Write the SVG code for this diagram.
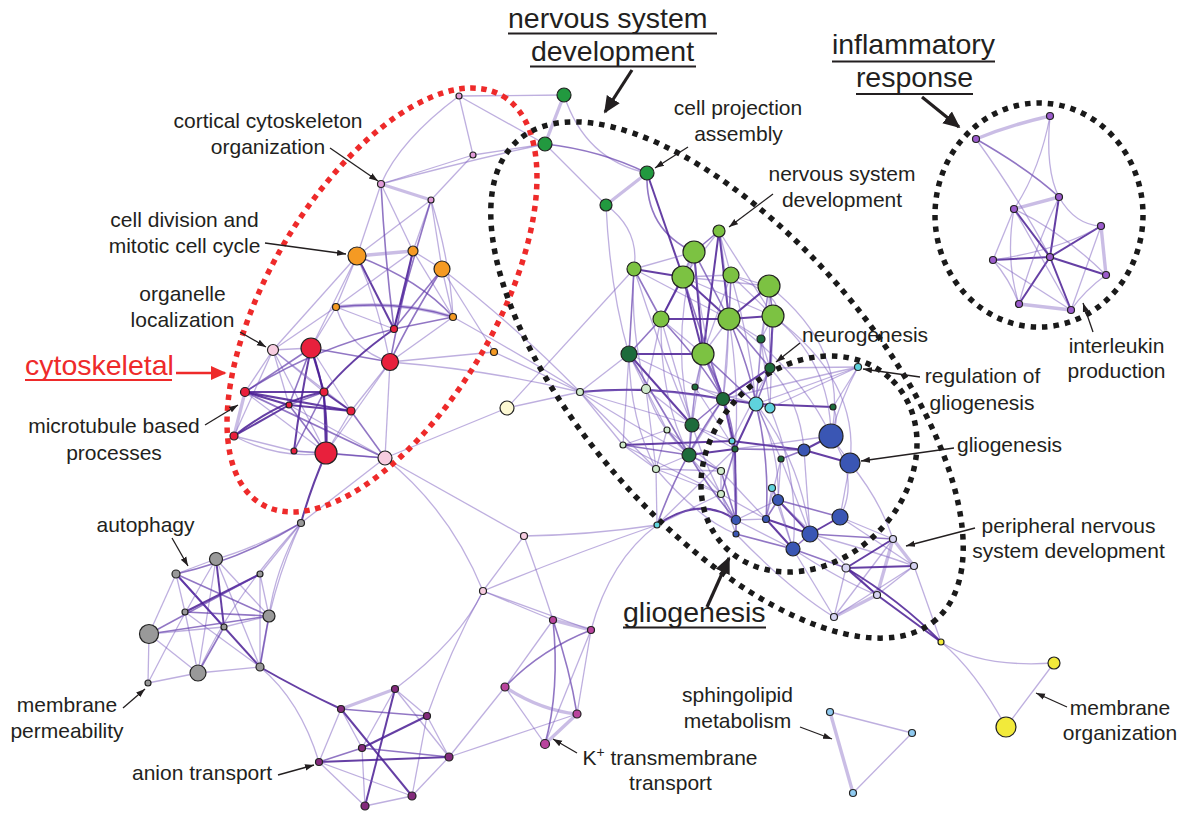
<svg xmlns="http://www.w3.org/2000/svg" width="1186" height="813" viewBox="0 0 1186 813">
<defs>
<style>
.L{stroke:#7d5fbf;stroke-opacity:.5;stroke-width:1.3;fill:none}
.M{stroke:#5d35a8;stroke-opacity:.68;stroke-width:1.6;fill:none}
.D{stroke:#4a1d94;stroke-opacity:.85;stroke-width:2;fill:none}
.T{stroke:#8a6cc6;stroke-opacity:.45;stroke-width:3.4;fill:none}
circle{stroke:#222;stroke-width:1.2}
.pv{fill:#e09ad8}.or{fill:#f59a23}.rd{fill:#e8203c}.lp{fill:#f7cde0}.cr{fill:#fdf9d3}
.gr{fill:#22993f}.lg{fill:#7cc242}.dg{fill:#1d6b3b}.pg{fill:#cfeacb}.cy{fill:#5fd3dd}
.bl{fill:#3a56b4}.lv{fill:#d6d3f2}.ye{fill:#f2ea3a}.gy{fill:#999}.pl{fill:#832a7c}
.mg{fill:#b9449d}.ip{fill:#9b5bcc}.lb{fill:#8fcaf0}
text{font-family:"Liberation Sans",Arial,sans-serif;fill:#231f20}
.s{font-size:21px;text-anchor:middle}
.b{font-size:28.5px}
.ul{stroke:#231f20;stroke-width:1.8}
.ar{stroke:#231f20;stroke-width:1.3;fill:none;marker-end:url(#ah)}
.big{stroke:#231f20;stroke-width:3.2;fill:none;marker-end:url(#ahb)}
.blk{fill:none;stroke:#1a1a1a;stroke-width:5.5;stroke-dasharray:5.5 6}
.red{fill:none;stroke:#ee2a2a;stroke-width:5.5;stroke-dasharray:5.5 5.5}
</style>
<marker id="ah" viewBox="0 0 10 10" refX="10" refY="5" markerWidth="9" markerHeight="9" markerUnits="userSpaceOnUse" orient="auto"><path d="M0,1.5L10,5L0,8.5z" fill="#231f20"/></marker>
<marker id="ahb" viewBox="0 0 10 10" refX="9" refY="5" markerWidth="17" markerHeight="17" markerUnits="userSpaceOnUse" orient="auto"><path d="M0,0.5L10,5L0,9.5z" fill="#231f20"/></marker>
<marker id="ahr" viewBox="0 0 10 10" refX="9" refY="5" markerWidth="16" markerHeight="16" markerUnits="userSpaceOnUse" orient="auto"><path d="M0,0.5L10,5L0,9.5z" fill="#ee2a2a"/></marker>
</defs>
<rect width="1186" height="813" fill="#fff"/>

<g id="connectors">
<!-- cytoskeletal -->
<path class="L" d="M459 96L473 155"/><path class="L" d="M459 96Q400 140 381 184"/><path class="L" d="M459 96L564 95"/><path class="L" d="M459 96L545 144"/>
<path class="L" d="M473 155L381 184"/><path class="L" d="M473 155L545 144"/><path class="L" d="M473 155L431 200"/><path class="L" d="M381 184Q470 160 545 144"/>
<path class="T" d="M381 184L431 200"/><path class="L" d="M381 184L357 256"/><path class="L" d="M381 184L413 251"/><path class="L" d="M431 200L357 256"/>
<path class="L" d="M431 200L413 251"/><path class="L" d="M431 200L442 269"/><path class="M" d="M381 184Q385 260 394 329"/><path class="M" d="M431 200Q410 270 394 329"/>
<path class="T" d="M357 256L413 251"/><path class="D" d="M357 256L394 329"/><path class="M" d="M357 256Q420 280 453 317"/><path class="L" d="M357 256L273 350"/>
<path class="L" d="M357 256L336 307"/><path class="D" d="M413 251L394 329"/><path class="M" d="M413 251Q400 310 390 362"/><path class="L" d="M413 251L453 317"/>
<path class="L" d="M413 251L336 307"/><path class="M" d="M442 269L394 329"/><path class="L" d="M442 269L453 317"/><path class="L" d="M442 269L494 352"/>
<path class="M" d="M442 269Q410 320 390 362"/><path class="L" d="M442 269Q520 330 580 392"/><path class="T" d="M336 307Q400 300 453 317"/><path class="M" d="M336 307Q400 300 453 317"/>
<path class="L" d="M336 307L394 329"/><path class="L" d="M336 307L273 350"/><path class="L" d="M336 307L311 348"/><path class="L" d="M336 307Q350 350 390 362"/>
<path class="M" d="M453 317L394 329"/><path class="L" d="M453 317L390 362"/><path class="L" d="M453 317Q530 360 580 392"/><path class="L" d="M494 352L580 392"/>
<path class="L" d="M494 352L390 362"/><path class="D" d="M394 329Q350 360 324 392"/><path class="M" d="M394 329Q310 350 245 392"/>
<path class="L" d="M357 256L311 348"/><path class="L" d="M413 251L442 269"/><path class="L" d="M431 200Q450 260 453 317"/><path class="L" d="M357 256Q380 310 390 362"/>
<path class="L" d="M273 350L326 453"/><path class="L" d="M234 436Q280 460 326 453"/>
<path class="M" d="M311 348L390 362"/><path class="M" d="M311 348L245 392"/><path class="D" d="M311 348L324 392"/><path class="M" d="M311 348L289 405"/>
<path class="L" d="M311 348L351 411"/><path class="D" d="M311 348Q300 400 294 451"/><path class="D" d="M311 348Q330 400 326 453"/><path class="L" d="M311 348L273 350"/>
<path class="L" d="M390 362L351 411"/><path class="L" d="M390 362L385 458"/><path class="L" d="M390 362Q490 370 580 392"/><path class="L" d="M390 362L326 453"/>
<path class="L" d="M273 350L245 392"/><path class="L" d="M273 350L324 392"/><path class="L" d="M273 350L289 405"/><path class="L" d="M273 350L351 411"/><path class="L" d="M273 350L234 436"/>
<path class="D" d="M245 392L324 392"/><path class="D" d="M245 392L289 405"/><path class="D" d="M245 392L351 411"/><path class="T" d="M245 392L234 436"/>
<path class="M" d="M245 392L385 458"/><path class="L" d="M245 392L326 453"/><path class="M" d="M324 392L289 405"/><path class="D" d="M324 392L351 411"/>
<path class="D" d="M324 392L326 453"/><path class="D" d="M289 405L351 411"/><path class="D" d="M289 405L234 436"/><path class="M" d="M289 405L326 453"/>
<path class="L" d="M289 405L385 458"/><path class="M" d="M351 411L385 458"/><path class="L" d="M351 411L326 453"/><path class="D" d="M234 436Q280 400 324 392"/>
<path class="L" d="M234 436L294 451"/><path class="L" d="M294 451L326 453"/><path class="L" d="M294 451L385 458"/><path class="M" d="M294 451L324 392"/>
<path class="M" d="M326 453L385 458"/><path class="D" d="M326 453Q310 490 301 523"/><path class="L" d="M385 458L301 523"/>
<path class="L" d="M385 458Q460 500 524 536"/><path class="L" d="M385 458Q450 510 483 591"/>
<path class="L" d="M507 408L385 458"/><path class="L" d="M507 408L634 269"/><path class="L" d="M507 408L580 392"/>
<!-- nervous system -->
<path class="T" d="M564 95L545 144"/><path class="L" d="M564 95Q585 160 647 173"/><path class="M" d="M545 144Q600 150 647 173"/><path class="L" d="M545 144L606 205"/>
<path class="T" d="M647 173L606 205"/><path class="M" d="M647 173Q645 230 694 252"/><path class="D" d="M647 173L683 277"/><path class="L" d="M606 205Q640 230 634 269"/>
<path class="L" d="M606 205Q610 290 629 354"/><path class="M" d="M719 231L694 252"/><path class="L" d="M719 231L683 277"/><path class="L" d="M719 231L731 275"/>
<path class="D" d="M719 231L729 319"/><path class="D" d="M719 231L703 354"/><path class="L" d="M719 231L773 316"/><path class="L" d="M694 252L634 269"/>
<path class="T" d="M694 252L683 277"/><path class="M" d="M694 252L729 319"/><path class="D" d="M694 252L703 354"/><path class="L" d="M694 252L661 319"/>
<path class="D" d="M634 269L683 277"/><path class="M" d="M634 269L661 319"/><path class="M" d="M634 269L629 354"/><path class="L" d="M634 269L729 319"/>
<path class="L" d="M683 277L731 275"/><path class="L" d="M683 277L769 286"/><path class="D" d="M683 277L661 319"/><path class="D" d="M683 277L729 319"/>
<path class="L" d="M683 277L773 316"/><path class="D" d="M683 277L703 354"/><path class="M" d="M683 277L723 399"/><path class="M" d="M731 275L729 319"/>
<path class="L" d="M731 275L769 286"/><path class="L" d="M731 275L773 316"/><path class="L" d="M731 275L703 354"/><path class="D" d="M769 286L729 319"/>
<path class="M" d="M769 286L773 316"/><path class="L" d="M769 286L761 339"/><path class="L" d="M769 286L770 368"/><path class="D" d="M661 319L729 319"/>
<path class="L" d="M661 319L703 354"/><path class="M" d="M661 319L629 354"/><path class="L" d="M661 319L692 425"/><path class="L" d="M661 319L646 389"/>
<path class="D" d="M729 319L773 316"/><path class="L" d="M729 319L703 354"/><path class="M" d="M729 319L770 368"/><path class="L" d="M729 319L761 339"/>
<path class="L" d="M729 319L723 399"/><path class="L" d="M773 316L761 339"/><path class="D" d="M773 316L770 368"/><path class="L" d="M773 316L770 408"/>
<path class="D" d="M703 354L629 354"/><path class="M" d="M703 354L723 399"/><path class="L" d="M703 354L692 425"/><path class="M" d="M703 354L756 404"/>
<path class="L" d="M703 354L695 387"/><path class="D" d="M629 354L692 425"/><path class="L" d="M629 354L646 389"/><path class="L" d="M629 354L580 392"/>
<path class="L" d="M629 354L623 445"/><path class="M" d="M629 354L689 455"/><path class="L" d="M629 354L723 399"/><path class="D" d="M770 368L723 399"/>
<path class="M" d="M770 368L756 404"/><path class="L" d="M770 368L732 441"/><path class="L" d="M761 339L756 404"/><path class="L" d="M761 339L770 368"/>
<path class="D" d="M580 392Q650 385 723 399"/><path class="L" d="M580 392L692 425"/><path class="L" d="M580 392L623 445"/><path class="L" d="M580 392L646 389"/>
<path class="L" d="M646 389L723 399"/><path class="L" d="M646 389L667 430"/><path class="L" d="M646 389L656 469"/><path class="L" d="M695 387L756 404"/>
<path class="L" d="M695 387L692 425"/><path class="D" d="M723 399L756 404"/><path class="M" d="M723 399L692 425"/><path class="D" d="M723 399L735 449"/>
<path class="L" d="M723 399L689 455"/><path class="M" d="M756 404L770 408"/><path class="D" d="M756 404L735 449"/><path class="L" d="M756 404L781 459"/>
<path class="D" d="M756 404L833 407"/><path class="L" d="M756 404L858 367"/><path class="L" d="M723 399Q800 380 858 367"/><path class="L" d="M770 368L858 367"/>
<path class="L" d="M770 408L858 367"/><path class="M" d="M692 425L689 455"/><path class="L" d="M692 425L735 449"/><path class="L" d="M692 425L732 441"/>
<path class="L" d="M667 430L623 445"/><path class="L" d="M667 430L656 469"/><path class="M" d="M667 430L689 455"/><path class="D" d="M623 445L732 441"/>
<path class="L" d="M623 445L656 469"/><path class="M" d="M623 445L689 455"/><path class="D" d="M732 441L804 450"/><path class="L" d="M732 441L735 449"/>
<path class="M" d="M735 449L804 450"/><path class="L" d="M735 449L831 436"/><path class="D" d="M735 449L689 455"/><path class="M" d="M735 449L721 494"/>
<path class="D" d="M735 449L736 520"/><path class="L" d="M689 455L656 469"/><path class="M" d="M689 455L721 471"/><path class="L" d="M656 469L721 494"/>
<path class="L" d="M656 469L721 471"/><path class="M" d="M721 471L736 520"/><path class="L" d="M721 471L721 494"/><path class="L" d="M721 471L766 519"/>
<path class="L" d="M781 459L778 500"/><path class="M" d="M781 459L804 450"/><path class="L" d="M781 459L766 519"/><path class="D" d="M804 450L831 436"/>
<path class="D" d="M804 450L850 463"/><path class="L" d="M804 450L810 534"/><path class="L" d="M831 436Q860 480 840 517"/><path class="L" d="M850 463L840 517"/>
<path class="L" d="M831 436L850 463"/><path class="L" d="M721 494L766 519"/><path class="L" d="M721 494L736 520"/><path class="M" d="M772 488L778 500"/>
<path class="L" d="M772 488L766 519"/><path class="L" d="M778 500L793 549"/><path class="L" d="M778 500L736 520"/><path class="D" d="M778 500L810 534"/>
<path class="M" d="M778 500L766 519"/><path class="D" d="M840 517L810 534"/><path class="M" d="M840 517L778 500"/><path class="L" d="M736 520L766 519"/>
<path class="M" d="M736 520L736 534"/><path class="L" d="M736 520L793 549"/><path class="D" d="M766 519L810 534"/><path class="D" d="M766 519L793 549"/>
<path class="M" d="M736 534L793 549"/><path class="M" d="M810 534L793 549"/><path class="M" d="M793 549L846 568"/><path class="M" d="M810 534L893 539"/>
<path class="L" d="M840 517L893 539"/><path class="L" d="M793 549L834 617"/><path class="L" d="M778 500Q840 560 877 595"/><path class="L" d="M736 534Q790 590 834 617"/>
<path class="L" d="M850 463Q880 500 893 539"/><path class="L" d="M840 517L914 566"/><path class="D" d="M657 525Q700 495 736 520"/><path class="L" d="M657 525L721 494"/>
<path class="M" d="M657 525Q680 460 723 399"/><path class="L" d="M657 525L735 449"/><path class="L" d="M657 525L656 469"/>
<!-- extra nervous system density -->
<path class="L" d="M773 316Q860 380 850 463"/><path class="L" d="M769 286Q850 350 831 436"/><path class="L" d="M773 316Q830 360 831 436"/><path class="L" d="M729 319Q800 370 831 436"/>
<path class="L" d="M769 286Q760 350 756 404"/><path class="L" d="M731 275Q750 340 756 404"/><path class="L" d="M719 231Q735 320 723 399"/><path class="L" d="M694 252Q700 330 723 399"/>
<path class="L" d="M694 252Q670 350 692 425"/><path class="L" d="M634 269Q660 350 692 425"/><path class="L" d="M634 269Q630 330 646 389"/><path class="L" d="M661 319Q660 400 689 455"/>
<path class="M" d="M661 319Q700 360 723 399"/><path class="L" d="M703 354Q690 410 689 455"/><path class="M" d="M703 354Q730 400 735 449"/><path class="M" d="M729 319Q750 370 756 404"/>
<path class="L" d="M729 319Q740 390 735 449"/><path class="L" d="M629 354Q630 420 656 469"/><path class="L" d="M646 389Q660 430 689 455"/><path class="L" d="M646 389L692 425"/>
<path class="L" d="M692 425Q710 480 736 520"/><path class="M" d="M689 455Q710 490 736 520"/><path class="L" d="M689 455L721 494"/><path class="L" d="M723 399Q740 470 736 520"/>
<path class="L" d="M756 404Q780 450 778 500"/><path class="L" d="M756 404Q800 460 810 534"/><path class="L" d="M770 408Q800 480 793 549"/><path class="L" d="M833 407Q840 420 831 436"/>
<path class="L" d="M770 368Q800 400 804 450"/><path class="L" d="M858 367Q840 400 831 436"/><path class="L" d="M858 367L833 407"/><path class="M" d="M756 404Q770 460 766 519"/>
<path class="L" d="M667 430L721 471"/><path class="L" d="M623 445L721 494"/><path class="L" d="M580 392Q640 430 689 455"/><path class="L" d="M580 392L656 469"/>
<path class="L" d="M732 441L736 520"/><path class="L" d="M761 339L770 408"/><path class="L" d="M695 387L735 449"/><path class="L" d="M781 459L810 534"/>
<path class="L" d="M772 488L793 549"/><path class="L" d="M721 494L736 534"/><path class="L" d="M793 549Q840 580 877 595"/><path class="L" d="M810 534Q870 550 914 566"/>
<path class="L" d="M656 469Q700 520 736 534"/><path class="L" d="M731 275Q790 300 773 316"/>
<!-- peripheral / yellow -->
<path class="D" d="M893 539L846 568"/><path class="T" d="M893 539L914 566"/><path class="T" d="M893 539L877 595"/><path class="L" d="M893 539L834 617"/>
<path class="D" d="M846 568L914 566"/><path class="D" d="M846 568L877 595"/><path class="L" d="M846 568L834 617"/><path class="L" d="M914 566L877 595"/>
<path class="L" d="M914 566L834 617"/><path class="T" d="M877 595L834 617"/><path class="D" d="M877 595L941 642"/><path class="L" d="M914 566L941 642"/>
<path class="D" d="M846 568Q900 600 941 642"/><path class="L" d="M941 642Q980 668 1054 663"/><path class="L" d="M941 642Q975 670 1006 727"/><path class="L" d="M1054 663L1006 727"/>
<!-- inflammatory -->
<path class="T" d="M976 139Q1010 125 1050 116"/><path class="M" d="M976 139Q1030 170 1059 197"/><path class="L" d="M976 139Q1020 200 1050 257"/>
<path class="L" d="M1050 116Q1040 170 1014 209"/><path class="L" d="M1050 116Q1045 170 1059 197"/><path class="T" d="M1059 197L1014 209"/><path class="D" d="M1059 197L1050 257"/>
<path class="L" d="M1059 197Q1075 225 1101 226"/><path class="D" d="M1014 209L1050 257"/><path class="L" d="M1014 209L993 260"/><path class="L" d="M1014 209Q1005 260 1019 304"/>
<path class="D" d="M1101 226L1050 257"/><path class="T" d="M1101 226L1106 275"/><path class="L" d="M1101 226L1071 310"/><path class="D" d="M993 260L1050 257"/>
<path class="D" d="M1050 257L1106 275"/><path class="D" d="M1050 257L1019 304"/><path class="D" d="M1050 257L1071 310"/><path class="L" d="M1106 275Q1085 290 1071 310"/>
<path class="T" d="M1019 304L1071 310"/><path class="L" d="M993 260Q1010 280 1019 304"/><path class="L" d="M993 260L1071 310"/><path class="L" d="M1014 209L1071 310"/>
<path class="L" d="M1059 197Q1030 260 1019 304"/><path class="L" d="M1101 226Q1060 250 993 260"/><path class="L" d="M1014 209Q1060 230 1106 275"/>
<!-- autophagy -->
<path class="L" d="M301 523Q250 550 216 559"/><path class="M" d="M301 523Q240 560 176 574"/><path class="L" d="M301 523L260 574"/><path class="L" d="M301 523Q275 570 269 616"/>
<path class="L" d="M301 523Q270 590 260 667"/><path class="L" d="M301 523Q230 600 198 673"/><path class="D" d="M216 559L224 627"/><path class="L" d="M216 559L198 673"/>
<path class="L" d="M216 559L269 616"/><path class="L" d="M216 559L176 574"/><path class="L" d="M216 559L260 667"/><path class="D" d="M176 574L260 667"/>
<path class="M" d="M176 574L269 616"/><path class="L" d="M176 574L149 634"/><path class="L" d="M176 574L185 612"/><path class="M" d="M176 574L224 627"/>
<path class="D" d="M260 574L185 612"/><path class="M" d="M260 574L149 634"/><path class="L" d="M260 574L269 616"/><path class="L" d="M260 574L260 667"/>
<path class="M" d="M185 612L269 616"/><path class="L" d="M185 612L260 667"/><path class="L" d="M185 612L198 673"/><path class="M" d="M269 616L149 634"/>
<path class="M" d="M269 616L260 667"/><path class="L" d="M269 616L224 627"/><path class="M" d="M224 627L198 673"/><path class="L" d="M224 627L149 634"/>
<path class="L" d="M149 634L148 683"/><path class="L" d="M149 634L198 673"/><path class="L" d="M198 673L148 683"/><path class="L" d="M198 673L260 667"/>
<path class="L" d="M216 559Q180 620 148 683"/>
<path class="D" d="M260 667Q300 690 341 709"/><path class="L" d="M260 667Q300 700 319 762"/>
<!-- anion -->
<path class="T" d="M395 689L341 709"/><path class="L" d="M395 689L427 716"/><path class="D" d="M395 689L365 806"/><path class="L" d="M395 689L362 748"/>
<path class="L" d="M395 689L449 757"/><path class="D" d="M341 709L412 796"/><path class="M" d="M341 709L427 716"/><path class="L" d="M341 709L319 762"/>
<path class="L" d="M341 709L362 748"/><path class="D" d="M427 716L362 748"/><path class="L" d="M427 716L449 757"/><path class="L" d="M427 716L412 796"/>
<path class="M" d="M362 748L319 762"/><path class="L" d="M362 748L365 806"/><path class="M" d="M362 748L449 757"/><path class="D" d="M319 762L449 757"/>
<path class="L" d="M319 762L365 806"/><path class="L" d="M319 762L412 796"/><path class="L" d="M449 757L412 796"/><path class="L" d="M412 796L365 806"/>
<path class="L" d="M395 689Q460 640 483 591"/><path class="L" d="M449 757L505 687"/><path class="L" d="M449 757L577 714"/><path class="L" d="M427 716Q450 650 483 591"/>
<!-- K+ / mid -->
<path class="T" d="M553 620L591 630"/><path class="M" d="M553 620Q570 670 577 714"/><path class="M" d="M553 620Q560 690 545 744"/><path class="L" d="M553 620L505 687"/>
<path class="M" d="M591 630Q540 650 505 687"/><path class="L" d="M591 630L545 744"/><path class="L" d="M591 630L577 714"/><path class="T" d="M505 687Q540 710 577 714"/>
<path class="L" d="M505 687L545 744"/><path class="T" d="M577 714L545 744"/>
<path class="L" d="M524 536L483 591"/><path class="L" d="M524 536Q540 580 553 620"/><path class="L" d="M524 536Q590 535 657 525"/><path class="L" d="M483 591Q570 555 657 525"/>
<path class="L" d="M483 591L553 620"/><path class="L" d="M483 591L591 630"/><path class="L" d="M591 630Q610 560 657 525"/>
<!-- sphingolipid -->
<path class="T" d="M830 712L853 793"/><path class="L" d="M830 712L912 733"/><path class="L" d="M912 733L853 793"/>
</g>

<g id="outlines">
<ellipse class="red" cx="382" cy="300" rx="237" ry="113" transform="rotate(-59.4 382 300)"/>
<ellipse class="blk" cx="727" cy="380" rx="318" ry="146" transform="rotate(48.9 727 380)"/>
<ellipse class="blk" cx="809" cy="464" rx="118" ry="97" transform="rotate(-45 809 464)"/>
<ellipse class="blk" cx="1039" cy="215" rx="104" ry="112"/>
</g>

<g id="nodes">
<g id="c1"><circle class="pv" cx="459" cy="96" r="3"/></g>
<g id="c2"><circle class="pv" cx="473" cy="155" r="3"/></g>
<g id="c3"><circle class="pv" cx="381" cy="184" r="3.5"/></g>
<g id="c4"><circle class="pv" cx="431" cy="200" r="3"/></g>
<g id="c5"><circle class="or" cx="357" cy="256" r="9"/></g>
<g id="c6"><circle class="or" cx="413" cy="251" r="5"/></g>
<g id="c7"><circle class="or" cx="442" cy="269" r="8"/></g>
<g id="c8"><circle class="or" cx="336" cy="307" r="3.5"/></g>
<g id="c9"><circle class="or" cx="453" cy="317" r="3.5"/></g>
<g id="c10"><circle class="rd" cx="394" cy="329" r="3.5"/></g>
<g id="c11"><circle class="or" cx="494" cy="352" r="3.5"/></g>
<g id="c12"><circle class="lp" cx="273" cy="350" r="5.5"/></g>
<g id="c13"><circle class="rd" cx="311" cy="348" r="10"/></g>
<g id="c14"><circle class="rd" cx="390" cy="362" r="8.5"/></g>
<g id="c15"><circle class="rd" cx="245" cy="392" r="4.5"/></g>
<g id="c16"><circle class="rd" cx="324" cy="392" r="4"/></g>
<g id="c17"><circle class="rd" cx="289" cy="405" r="3"/></g>
<g id="c18"><circle class="rd" cx="351" cy="411" r="4"/></g>
<g id="c19"><circle class="rd" cx="234" cy="436" r="4"/></g>
<g id="c20"><circle class="rd" cx="294" cy="451" r="3"/></g>
<g id="c21"><circle class="rd" cx="326" cy="453" r="11"/></g>
<g id="c22"><circle class="lp" cx="385" cy="458" r="7"/></g>
<g id="n0"><circle class="cr" cx="507" cy="408" r="7"/></g>
<g id="n1"><circle class="gr" cx="564" cy="95" r="7"/></g>
<g id="n2"><circle class="gr" cx="545" cy="144" r="7"/></g>
<g id="n3"><circle class="gr" cx="647" cy="173" r="7"/></g>
<g id="n4"><circle class="gr" cx="606" cy="205" r="6"/></g>
<g id="n5"><circle class="lg" cx="719" cy="231" r="6"/></g>
<g id="n6"><circle class="lg" cx="694" cy="252" r="11"/></g>
<g id="n7"><circle class="lg" cx="634" cy="269" r="7"/></g>
<g id="n8"><circle class="lg" cx="683" cy="277" r="11"/></g>
<g id="n9"><circle class="lg" cx="731" cy="275" r="8"/></g>
<g id="n10"><circle class="lg" cx="769" cy="286" r="11"/></g>
<g id="n11"><circle class="lg" cx="661" cy="319" r="8"/></g>
<g id="n12"><circle class="lg" cx="729" cy="319" r="11"/></g>
<g id="n13"><circle class="lg" cx="773" cy="316" r="11"/></g>
<g id="n14"><circle class="dg" cx="761" cy="339" r="4"/></g>
<g id="n15"><circle class="lg" cx="703" cy="354" r="11"/></g>
<g id="n16"><circle class="dg" cx="629" cy="354" r="8"/></g>
<g id="n17"><circle class="dg" cx="770" cy="368" r="5"/></g>
<g id="n18"><circle class="pg" cx="580" cy="392" r="3.5"/></g>
<g id="n19"><circle class="pg" cx="646" cy="389" r="4.5"/></g>
<g id="n20"><circle class="dg" cx="695" cy="387" r="3"/></g>
<g id="n21"><circle class="dg" cx="723" cy="399" r="6.5"/></g>
<g id="n22"><circle class="cy" cx="756" cy="404" r="7"/></g>
<g id="n23"><circle class="cy" cx="770" cy="408" r="5"/></g>
<g id="n24"><circle class="dg" cx="833" cy="407" r="3"/></g>
<g id="n25"><circle class="dg" cx="692" cy="425" r="7"/></g>
<g id="n26"><circle class="pg" cx="667" cy="430" r="3"/></g>
<g id="n27"><circle class="pg" cx="623" cy="445" r="3"/></g>
<g id="n28"><circle class="cy" cx="732" cy="441" r="3"/></g>
<g id="n29"><circle class="dg" cx="735" cy="449" r="3"/></g>
<g id="n30"><circle class="dg" cx="689" cy="455" r="7"/></g>
<g id="n31"><circle class="pg" cx="656" cy="469" r="3.5"/></g>
<g id="n32"><circle class="pg" cx="721" cy="471" r="3.5"/></g>
<g id="n33"><circle class="dg" cx="781" cy="459" r="3"/></g>
<g id="n34"><circle class="bl" cx="804" cy="450" r="6"/></g>
<g id="n35"><circle class="bl" cx="831" cy="436" r="12"/></g>
<g id="n36"><circle class="bl" cx="850" cy="463" r="10"/></g>
<g id="n37"><circle class="pg" cx="721" cy="494" r="3.5"/></g>
<g id="n38"><circle class="cy" cx="772" cy="488" r="3.5"/></g>
<g id="n39"><circle class="bl" cx="778" cy="500" r="5.5"/></g>
<g id="n40"><circle class="bl" cx="840" cy="517" r="8"/></g>
<g id="n41"><circle class="bl" cx="736" cy="520" r="4.5"/></g>
<g id="n42"><circle class="bl" cx="766" cy="519" r="3.5"/></g>
<g id="n43"><circle class="bl" cx="736" cy="534" r="3"/></g>
<g id="n44"><circle class="bl" cx="810" cy="534" r="8"/></g>
<g id="n45"><circle class="bl" cx="793" cy="549" r="7"/></g>
<g id="n46"><circle class="cy" cx="657" cy="525" r="3"/></g>
<g id="n47"><circle class="cy" cx="858" cy="367" r="3.5"/></g>
<g id="p1"><circle class="lv" cx="893" cy="539" r="3.5"/></g>
<g id="p2"><circle class="lv" cx="846" cy="568" r="4"/></g>
<g id="p3"><circle class="lv" cx="914" cy="566" r="3.5"/></g>
<g id="p4"><circle class="lv" cx="877" cy="595" r="3.5"/></g>
<g id="p5"><circle class="lv" cx="834" cy="617" r="3.5"/></g>
<g id="y1"><circle class="ye" cx="941" cy="642" r="3"/></g>
<g id="y2"><circle class="ye" cx="1054" cy="663" r="6"/></g>
<g id="y3"><circle class="ye" cx="1006" cy="727" r="10"/></g>
<g id="i1"><circle class="ip" cx="976" cy="139" r="3.5"/></g>
<g id="i2"><circle class="ip" cx="1050" cy="116" r="3.5"/></g>
<g id="i3"><circle class="ip" cx="1059" cy="197" r="3.5"/></g>
<g id="i4"><circle class="ip" cx="1014" cy="209" r="3.5"/></g>
<g id="i5"><circle class="ip" cx="1101" cy="226" r="3.5"/></g>
<g id="i6"><circle class="ip" cx="993" cy="260" r="3.5"/></g>
<g id="i7"><circle class="ip" cx="1050" cy="257" r="3.5"/></g>
<g id="i8"><circle class="ip" cx="1106" cy="275" r="3.5"/></g>
<g id="i9"><circle class="ip" cx="1019" cy="304" r="3.5"/></g>
<g id="i10"><circle class="ip" cx="1071" cy="310" r="3.5"/></g>
<g id="g0"><circle class="gy" cx="301" cy="523" r="3.5"/></g>
<g id="g1"><circle class="gy" cx="216" cy="559" r="6.5"/></g>
<g id="g2"><circle class="gy" cx="176" cy="574" r="4"/></g>
<g id="g3"><circle class="gy" cx="260" cy="574" r="3"/></g>
<g id="g4"><circle class="gy" cx="185" cy="612" r="3"/></g>
<g id="g5"><circle class="gy" cx="269" cy="616" r="6"/></g>
<g id="g6"><circle class="gy" cx="224" cy="627" r="3"/></g>
<g id="g7"><circle class="gy" cx="149" cy="634" r="9.5"/></g>
<g id="g8"><circle class="gy" cx="198" cy="673" r="8"/></g>
<g id="g9"><circle class="gy" cx="260" cy="667" r="4"/></g>
<g id="g10"><circle class="gy" cx="148" cy="683" r="3"/></g>
<g id="a1"><circle class="pl" cx="395" cy="689" r="3.5"/></g>
<g id="a2"><circle class="pl" cx="341" cy="709" r="3.5"/></g>
<g id="a3"><circle class="pl" cx="427" cy="716" r="3.5"/></g>
<g id="a4"><circle class="pl" cx="362" cy="748" r="3.5"/></g>
<g id="a5"><circle class="pl" cx="319" cy="762" r="3.5"/></g>
<g id="a6"><circle class="pl" cx="449" cy="757" r="4"/></g>
<g id="a7"><circle class="pl" cx="412" cy="796" r="4"/></g>
<g id="a8"><circle class="pl" cx="365" cy="806" r="4"/></g>
<g id="m1"><circle class="lp" cx="524" cy="536" r="3.5"/></g>
<g id="m2"><circle class="lp" cx="483" cy="591" r="3.5"/></g>
<g id="k1"><circle class="mg" cx="553" cy="620" r="3.5"/></g>
<g id="k2"><circle class="mg" cx="591" cy="630" r="3.5"/></g>
<g id="k3"><circle class="mg" cx="505" cy="687" r="4"/></g>
<g id="k4"><circle class="mg" cx="577" cy="714" r="4"/></g>
<g id="k5"><circle class="mg" cx="545" cy="744" r="4.5"/></g>
<g id="s1"><circle class="lb" cx="830" cy="712" r="3.5"/></g>
<g id="s2"><circle class="lb" cx="912" cy="733" r="3.5"/></g>
<g id="s3"><circle class="lb" cx="853" cy="793" r="3.5"/></g>
</g>

<g id="labels">
<g id="lbl-nsd"><text class="b" x="508" y="28">nervous system</text><text class="b" x="612.5" y="61" text-anchor="middle">development</text>
<line class="ul" x1="508" y1="33.5" x2="717" y2="33.5"/><line class="ul" x1="530" y1="66.5" x2="696" y2="66.5"/>
<path class="big" d="M632 70L605 112"/></g>
<g id="lbl-infl"><text class="b" x="913.5" y="54" text-anchor="middle">inflammatory</text><text class="b" x="914.5" y="87" text-anchor="middle">response</text>
<line class="ul" x1="832" y1="61.5" x2="995" y2="61.5"/><line class="ul" x1="856" y1="94" x2="973" y2="94"/>
<path class="big" d="M922 97L959 127"/></g>
<g id="lbl-cyto"><text class="b" x="25" y="375" style="fill:#ee2a2a">cytoskeletal</text><line x1="25" y1="380" x2="172" y2="380" stroke="#ee2a2a" stroke-width="1.8"/>
<path d="M176 373L225 373" stroke="#ee2a2a" stroke-width="2.6" fill="none" marker-end="url(#ahr)"/></g>
<g id="lbl-glio"><text class="b" x="623" y="622">gliogenesis</text><line class="ul" x1="623" y1="627.5" x2="766" y2="627.5"/>
<path class="big" d="M707 607L729 558"/></g>

<g id="lbl1"><text class="s" x="268" y="128">cortical cytoskeleton</text><text class="s" x="268" y="154">organization</text><path class="ar" d="M330 148L378 181"/></g>
<g id="lbl2"><text class="s" x="184.5" y="227">cell division and</text><text class="s" x="184.5" y="253">mitotic cell cycle</text><path class="ar" d="M265 243L346 254"/></g>
<g id="lbl3"><text class="s" x="182.5" y="301">organelle</text><text class="s" x="182.5" y="327">localization</text><path class="ar" d="M240 332L266 347"/></g>
<g id="lbl4"><text class="s" x="114" y="433">microtubule based</text><text class="s" x="114" y="460">processes</text><path class="ar" d="M205 425L238 405"/></g>
<g id="lbl5"><text class="s" x="738" y="115">cell projection</text><text class="s" x="738.5" y="141">assembly</text><path class="ar" d="M688 147L655 168"/></g>
<g id="lbl6"><text class="s" x="842" y="181">nervous system</text><text class="s" x="842" y="207">development</text><path class="ar" d="M773 194L729 227"/></g>
<g id="lbl7"><text class="s" x="865" y="342">neurogenesis</text><path class="ar" d="M800 343L776 362"/></g>
<g id="lbl8"><text class="s" x="982.5" y="383">regulation of</text><text class="s" x="982" y="410">gliogenesis</text><path class="ar" d="M920 377L863 369"/></g>
<g id="lbl9"><text class="s" x="957" y="452" style="text-anchor:start">gliogenesis</text><path class="ar" d="M954 448L861 461"/></g>
<g id="lbl10"><text class="s" x="1068.5" y="533">peripheral nervous</text><text class="s" x="1068.5" y="558">system development</text><path class="ar" d="M975 528L906 546"/></g>
<g id="lbl11"><text class="s" x="1116.5" y="353">interleukin</text><text class="s" x="1116.5" y="378">production</text><path class="ar" d="M1093 332L1083 303"/></g>
<g id="lbl12"><text class="s" x="145.5" y="532">autophagy</text><path class="ar" d="M172 538L188 566"/></g>
<g id="lbl13"><text class="s" x="67" y="712">membrane</text><text class="s" x="67" y="738">permeability</text><path class="ar" d="M123 708L145 689"/></g>
<g id="lbl14"><text class="s" x="132" y="780" style="text-anchor:start">anion transport</text><path class="ar" d="M278 775L314 765"/></g>
<g id="lbl15"><text class="s" x="670" y="765">K<tspan font-size="14" dy="-8">+</tspan><tspan dy="8"> transmembrane</tspan></text><text class="s" x="670.5" y="790">transport</text><path class="ar" d="M577 753L553 739"/></g>
<g id="lbl16"><text class="s" x="737.5" y="702">sphingolipid</text><text class="s" x="737.5" y="728">metabolism</text><path class="ar" d="M800 727L832 739"/></g>
<g id="lbl17"><text class="s" x="1120" y="715">membrane</text><text class="s" x="1120" y="740">organization</text><path class="ar" d="M1067 707L1036 693"/></g>
</g>
</svg>
